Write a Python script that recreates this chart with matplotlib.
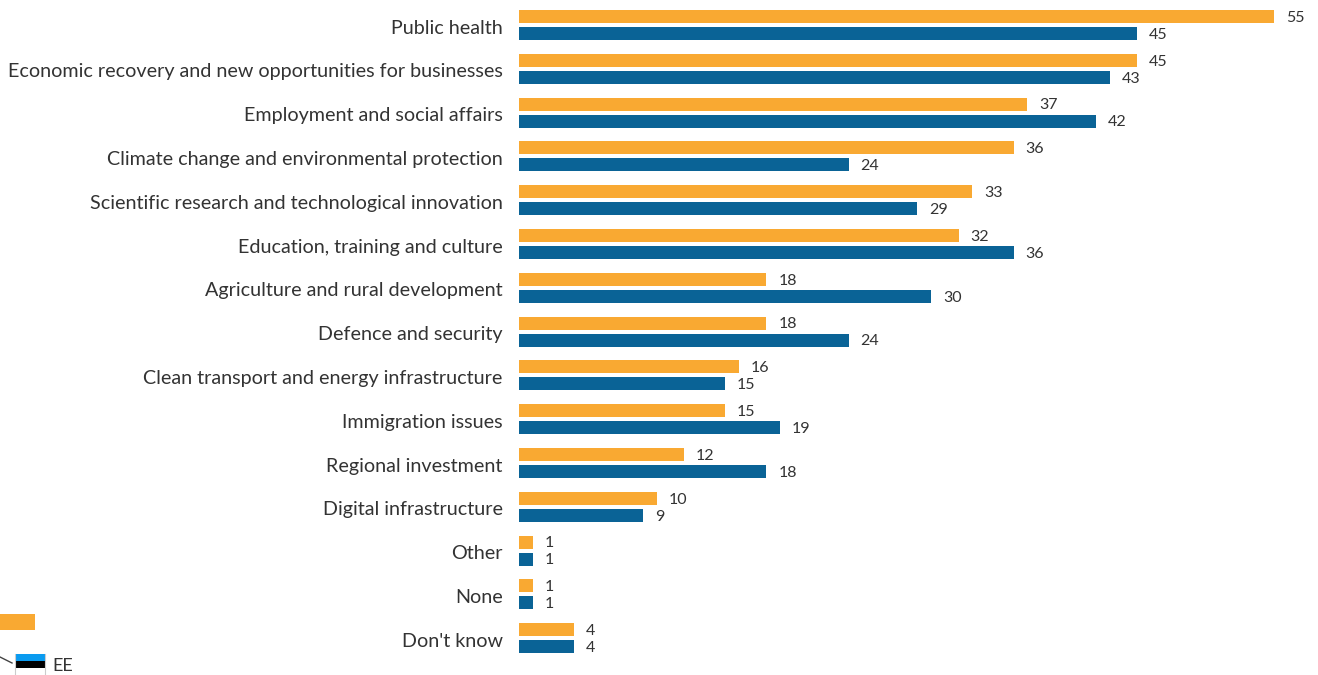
import matplotlib
matplotlib.use('Agg')
import numpy as np
import matplotlib.pyplot as plt
from matplotlib.patches import Rectangle
from matplotlib.lines import Line2D

plt.rcParams['font.family'] = ['Lato', 'DejaVu Sans']

categories = ['Public health', 'Economic recovery and new opportunities for businesses',
              'Employment and social affairs', 'Climate change and environmental protection',
              'Scientific research and technological innovation', 'Education, training and culture',
              'Agriculture and rural development', 'Defence and security',
              'Clean transport and energy infrastructure', 'Immigration issues',
              'Regional investment', 'Digital infrastructure', 'Other', 'None', "Don't know"]
eu_values = [55, 45, 37, 36, 33, 32, 18, 18, 16, 15, 12, 10, 1, 1, 4]
ee_values = [45, 43, 42, 24, 29, 36, 30, 24, 15, 19, 18, 9, 1, 1, 4]

ORANGE = '#f9a932'
BLUE = '#0a6396'
TEXT = '#333333'
W, H = 1318, 675

fig = plt.figure(figsize=(W/100, H/100), dpi=100)

# axes from the first bar's start to the right edge, full height
x0 = 519.3
ax = fig.add_axes([x0/W, 0, 1 - x0/W, 1])
ax.set_xlim(0, (W - x0)/13.73)
ax.set_ylim(650/43.8, -25/43.8)

y = np.arange(len(categories))
ax.barh(y - 0.194, eu_values, height=0.297, color=ORANGE)
ax.barh(y + 0.194, ee_values, height=0.297, color=BLUE)

# value labels sit a touch under the bar centre
for i in y:
    ax.annotate(str(eu_values[i]), (eu_values[i], i - 0.194), xytext=(8.5, -1), textcoords='offset points',
                fontsize=11.5, color=TEXT, va='center')
    ax.annotate(str(ee_values[i]), (ee_values[i], i + 0.194), xytext=(8.5, -1), textcoords='offset points',
                fontsize=11.5, color=TEXT, va='center')

ax.set_yticks(y + 0.035)
ax.set_yticklabels(categories, fontsize=14.25, color=TEXT)
ax.tick_params(axis='y', length=0, pad=12)
ax.set_xticks([])
for s in ax.spines.values():
    s.set_visible(False)
ax.patch.set_visible(False)

# cropped legend at lower left, in pixels
def px(x, y_):
    return x/W, 1 - y_/H

def rect(x, top, w, h, **kw):
    fig.add_artist(Rectangle(px(x, top + h), w/W, h/H, transform=fig.transFigure, **kw))

rect(0, 614, 35, 16, color=ORANGE, lw=0)
rect(15, 654, 30, 7, color='#0a9bf0', lw=0)
rect(15, 661, 30, 7, color='black', lw=0)
rect(15, 668, 30, 7, color='white', lw=0)
fig.add_artist(Line2D([0, 12/W], [1 - 657/H, 1 - 663/H], color='#444444', lw=1))
fig.add_artist(Line2D([15/W, 15/W], [1 - 654/H, 0], color='#cccccc', lw=0.8))
fig.add_artist(Line2D([45/W, 45/W], [1 - 654/H, 0], color='#cccccc', lw=0.8))
fig.text(52/W, 1 - 666/H, 'EE', fontsize=13, color=TEXT, va='center', ha='left')

fig.savefig('out.png', dpi=100)
